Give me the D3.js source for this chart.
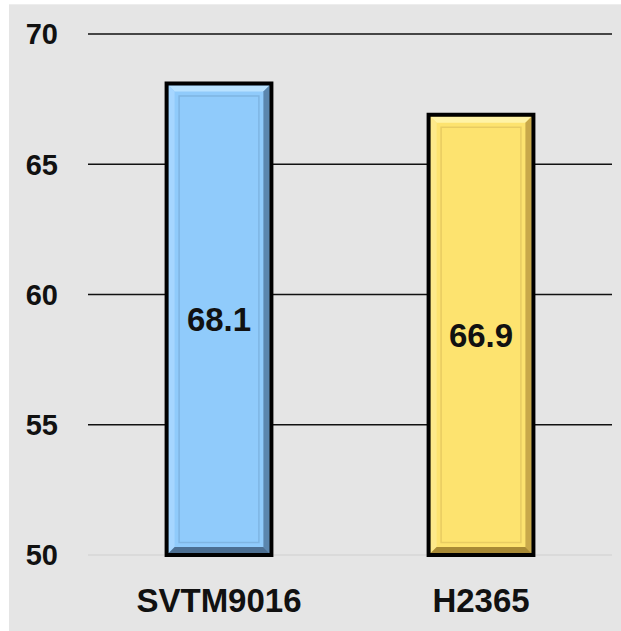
<!DOCTYPE html>
<html><head><meta charset="utf-8">
<script src="https://cdn.jsdelivr.net/npm/d3@7"></script>
<style>html,body{margin:0;padding:0;background:#fff;}svg{display:block;}</style>
</head><body>
<svg id="chart" width="621" height="631"></svg>
<script>
const categories = ["SVTM9016", "H2365"];
const values = [68.1, 66.9];
const yTicks = [50, 55, 60, 65, 70];

const palettes = [
  {main:"#90cbfb", top:"#b9e2ff", left:"#a6d6ff", right:"#5b86ad", bottom:"#4c6f92", inner:"#7fb5e2"},
  {main:"#fde36f", top:"#fff3a6", left:"#fde98a", right:"#c9a94a", bottom:"#a88a35", inner:"#e8cc62"}
];

const svg = d3.select("#chart");
const W = 621, H = 631;
svg.append("rect").attr("x",9).attr("y",4).attr("width",W-9).attr("height",H-4).attr("fill","#e5e5e5");
svg.append("line").attr("x1",9).attr("x2",W).attr("y1",4.5).attr("y2",4.5).attr("stroke","#ededed");

const x = d3.scaleBand().domain(categories).range([88, 612]).paddingInner(0.6).paddingOuter(0.3);
const y = d3.scaleLinear().domain([50, 70]).range([555, 34]);

const font = "Liberation Sans, Arial, sans-serif";

// grid
svg.append("g").selectAll("line").data(yTicks).join("line")
  .attr("x1",88).attr("x2",612)
  .attr("y1",d=>y(d)).attr("y2",d=>y(d))
  .attr("stroke",d=>d===50?"#d6d6d6":"#111")
  .attr("stroke-width",d=>d===50?1.5:1.6);

// y labels
svg.append("g").selectAll("text").data(yTicks).join("text")
  .attr("x",58).attr("y",d=>y(d)).attr("dy","0.36em")
  .attr("text-anchor","end")
  .attr("font-family",font)
  .attr("font-weight","bold").attr("font-size",29).attr("fill","#111")
  .text(d=>d);

// bars
const bw = x.bandwidth();
const g = svg.append("g");
categories.forEach((c,i)=>{
  const p = palettes[i];
  const x0 = x(c), x1 = x0 + bw, y0 = y(values[i]), y1 = y(50);
  const bar = g.append("g");
  bar.append("rect").attr("x",x0).attr("y",y0).attr("width",bw).attr("height",y1-y0).attr("fill",p.main);
  const b = 6;
  const ix0 = x0 + 2, ix1 = x1 - 2, iy0 = y0 + 2, iy1 = y1 - 2;
  const poly = pts => pts.map(q=>q.join(",")).join(" ");
  bar.append("polygon").attr("points",poly([[ix0,iy0],[ix1,iy0],[ix1-b,iy0+b],[ix0+b,iy0+b]])).attr("fill",p.top);
  bar.append("polygon").attr("points",poly([[ix0,iy0],[ix0+b,iy0+b],[ix0+b,iy1-b],[ix0,iy1]])).attr("fill",p.left);
  bar.append("polygon").attr("points",poly([[ix1,iy0],[ix1,iy1],[ix1-b,iy1-b],[ix1-b,iy0+b]])).attr("fill",p.right);
  bar.append("polygon").attr("points",poly([[ix0,iy1],[ix0+b,iy1-b],[ix1-b,iy1-b],[ix1,iy1]])).attr("fill",p.bottom);
  bar.append("rect").attr("x",x0+12.5).attr("y",y0+12.5).attr("width",bw-25).attr("height",y1-y0-25)
    .attr("fill","none").attr("stroke",p.inner).attr("stroke-width",1.5);
  bar.append("rect").attr("x",x0).attr("y",y0).attr("width",bw).attr("height",y1-y0)
    .attr("fill","none").attr("stroke","#000").attr("stroke-width",4);
  bar.append("text").attr("x",x0+bw/2).attr("y",(y0+y1)/2).attr("dy","0.36em")
    .attr("text-anchor","middle")
    .attr("font-family",font)
    .attr("font-weight","bold").attr("font-size",33).attr("fill","#111")
    .text(values[i].toFixed(1));
});

// x labels
svg.append("g").selectAll("text").data(categories).join("text")
  .attr("x",d=>x(d)+bw/2).attr("y",600).attr("dy","0.36em")
  .attr("text-anchor","middle")
  .attr("font-family",font)
  .attr("font-weight","bold").attr("font-size",33).attr("fill","#111")
  .text(d=>d);
</script>
</body></html>
